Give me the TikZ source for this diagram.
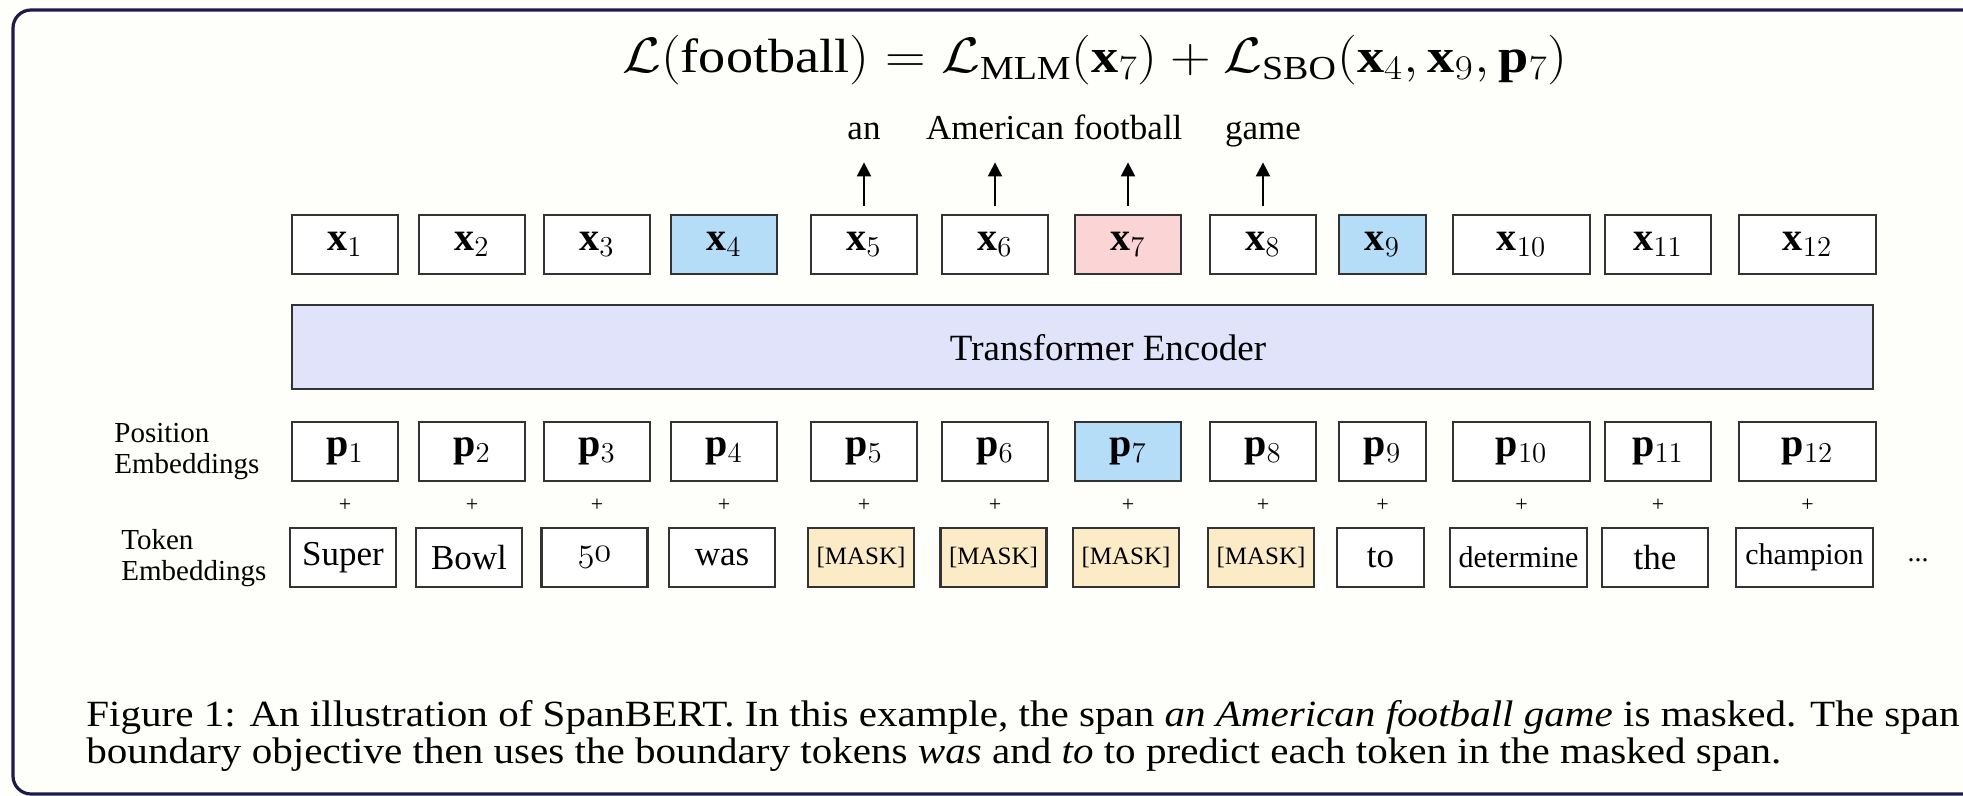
\documentclass[tikz,border=0pt]{standalone}
\usepackage{graphicx}
\usepackage{fontspec}
\setmainfont{Liberation Serif}
\usetikzlibrary{arrows.meta}
\definecolor{boxc}{HTML}{333333}
\definecolor{framec}{HTML}{1E1B4B}
\definecolor{bgc}{HTML}{FEFEFB}
\definecolor{blu}{HTML}{B5DDF8}
\definecolor{pnk}{HTML}{FBD5D5}
\definecolor{msk}{HTML}{FCEBC7}
\definecolor{trf}{HTML}{E0E3FA}
\tikzset{
  cell/.style={draw=boxc, line width=1.1pt, minimum height=29.5pt, inner sep=0pt, anchor=center},
  mathtxt/.style={font=\fontsize{20}{24}\selectfont},
  toptxt/.style={font=\fontsize{17.5}{21}\selectfont, anchor=base, inner sep=0pt, text depth=0pt},
  sidelbl/.style={font=\fontsize{14.5}{15.5}\selectfont, align=left, anchor=west, inner sep=0pt},
  plustxt/.style={font=\fontsize{11}{12}\selectfont, inner sep=0pt},
  arr/.style={line width=1.1pt, -{Triangle[length=7pt,width=7pt]}, shorten <=4pt, shorten >=11pt},
  captxt/.style={font=\fontsize{18.5}{22}\selectfont, anchor=base west, inner sep=0pt}
}
\begin{document}
\begin{tikzpicture}[x=0.5pt,y=-0.5pt]
\useasboundingbox (0,0) rectangle (1963,796);
\fill[bgc] (0,0) rectangle (1963,796);
\clip (0,0) rectangle (1963,796);
\draw[framec, line width=1.6pt, rounded corners=9pt] (1990,10) -- (13,10) -- (13,794) -- (1990,794);

% formula
\node[font=\fontsize{24}{29}\selectfont, inner sep=0pt] (formula) at (1095,60)
  {\scalebox{1.13}[1]{$\mathcal{L}(\mathrm{football}) = \mathcal{L}_{\mathrm{MLM}}(\mathbf{x}_7) + \mathcal{L}_{\mathrm{SBO}}(\mathbf{x}_4, \mathbf{x}_9, \mathbf{p}_7)$}};

% output row and plus signs
\foreach \i/\cx/\w/\f in {1/345/53/white, 2/472/53/white, 3/597/53/white, 4/724/53/blu,
  5/864/53/white, 6/995/53/white, 7/1128/53/pnk, 8/1263/53/white, 9/1382.5/43.5/blu,
  10/1521.5/68.5/white, 11/1658/53/white, 12/1807.5/68.5/white}{
  \node[cell, mathtxt, fill=\f, minimum width=\w pt] (x\i) at (\cx,244.5) {$\mathbf{x}_{\i}$};
  \node[plustxt] (plus\i) at (\cx,505) {+};
}
% position row
\foreach \i/\cx/\w/\f in {1/345/53/white, 2/472/53/white, 3/597/53/white, 4/724/53/white,
  5/864/53/white, 6/995/53/white, 7/1128/53/blu, 8/1263/53/white, 9/1382.5/43.5/white,
  10/1521.5/68.5/white, 11/1658/53/white, 12/1807.5/68.5/white}{
  \node[cell, mathtxt, fill=\f, minimum width=\w pt] (p\i) at (\cx,451.5) {$\mathbf{p}_{\i}$};
}

% transformer
\node[draw=boxc, line width=1.1pt, fill=trf, minimum width=790.5pt, minimum height=42pt, inner sep=0pt] (enc) at (1082.5,347) {};
\node[font=\fontsize{18.5}{22}\selectfont, inner sep=0pt] (enclbl) at (1108,348) {Transformer Encoder};

% token row
\foreach \i/\cx/\w/\f/\fs/\t in {1/343/53/white/17.5/Super, 2/469/53/white/17.5/Bowl,
  3/594.5/53/white/17.5/{\usefont{OML}{cmm}{m}{it}50}, 4/722/53/white/17.5/was,
  5/861/53/msk/12.5/{[MASK]}, 6/993.5/53/msk/12.5/{[MASK]}, 7/1126/53/msk/12.5/{[MASK]},
  8/1261/53/msk/12.5/{[MASK]}, 9/1380.5/43.5/white/17.5/to, 10/1518.5/68.5/white/15/determine,
  11/1655/53/white/17.5/the, 12/1804.5/68.5/white/15/champion}{
  \node[cell, fill=\f, minimum width=\w pt, font=\fontsize{\fs}{\fs}\selectfont] (t\i) at (\cx,557.5) {\t};
}
\node[font=\fontsize{14}{16}\selectfont, inner sep=0pt] (dots) at (1918,560) {...};

% side labels
\node[sidelbl] (poslbl) at (114,452) {Position\\Embeddings};
\node[sidelbl] (toklbl) at (121,558) {Token\\Embeddings};

% predicted words
\node[toptxt] (w5) at (864,140) {an};
\node[toptxt] (w6) at (995,140) {American};
\node[toptxt] (w7) at (1128,140) {football};
\node[toptxt] (w8) at (1263,140) {game};
\foreach \i in {5,6,7,8}{
  \draw[arr] (x\i.north) -- (x\i.north |- w\i.south);
}

% caption
\node[captxt] (cap1) at (86,726) {\scalebox{1.11}[1]{Figure 1: An illustration of SpanBERT. In this example, the span \emph{an American football game} is masked. The span}};
\node[captxt] (cap2) at (86,763) {\scalebox{1.11}[1]{boundary objective then uses the boundary tokens \emph{was} and \emph{to} to predict each token in the masked span.}};
\end{tikzpicture}
\end{document}
